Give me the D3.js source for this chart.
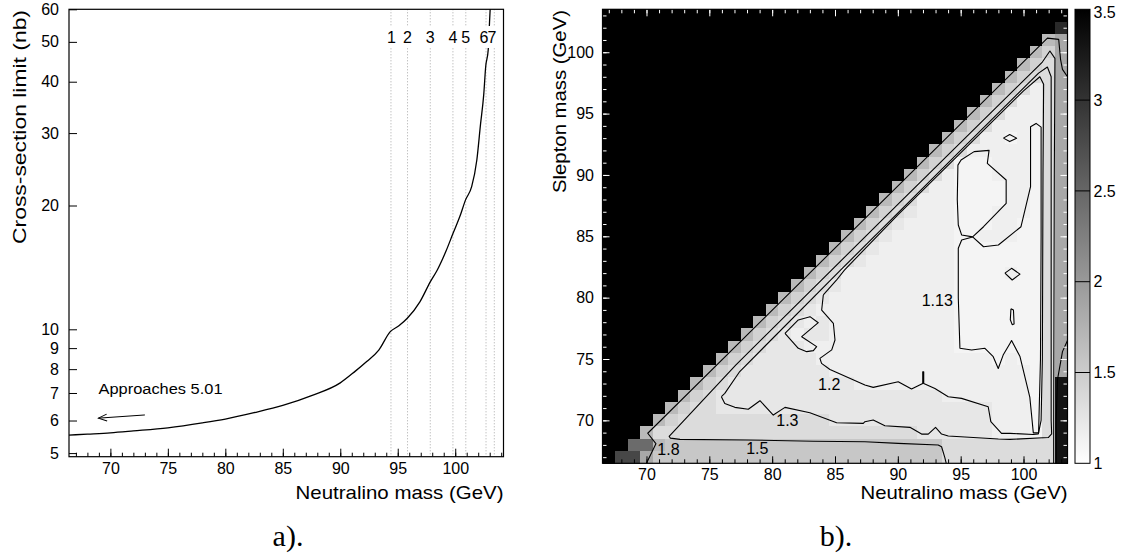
<!DOCTYPE html>
<html><head><meta charset="utf-8">
<script src="https://cdn.jsdelivr.net/npm/d3@7"></script>
<style>
html,body{margin:0;padding:0;background:#fff;}
svg{display:block;}
</style></head><body>
<svg id="chart" width="1129" height="556"></svg>
<script>
// ================= DATA : panel a) =================
const massA  = [66.4, 68, 70, 72, 75, 78, 80, 82.5, 85, 87.5, 90, 91.26, 92.3, 93.35, 94.35, 95.1, 95.83, 96.94, 97.84, 98.44, 99.2, 99.82, 100.4, 100.9, 101.43, 101.88, 102.2, 102.48, 102.65, 102.87, 103.0, 103.1];
const limitA = [5.53, 5.56, 5.60, 5.66, 5.76, 5.92, 6.05, 6.27, 6.53, 6.90, 7.41, 7.89, 8.35, 8.90, 9.87, 10.2, 10.64, 11.68, 13.06, 13.94, 15.5, 17.14, 18.8, 20.64, 22.23, 25.81, 31.5, 37.2, 43.5, 47.8, 57, 65];
const yTicksA = [5,6,7,8,9,10,20,30,40,50,60];
const xMajorTicks = [70,75,80,85,90,95,100];
const thresholdMass = [94.41, 95.85, 97.83, 99.8, 100.92, 102.68, 103.4];
const thresholdLabels = ["1","2","3","4","5","6","7"];
const thresholdLabelMass = [94.45, 95.85, 97.83, 99.8, 100.92, 102.5, 103.2];
const arrowFrom = [73.0, 6.19], arrowTo = [68.96, 6.08];
const noteText = "Approaches 5.01", notePos = [68.97, 6.96];

// ================= DATA : panel b) =================
const neutralinoBins = [67,68,69,70,71,72,73,74,75,76,77,78,79,80,81,82,83,84,85,86,87,88,89,90,91,92,93,94,95,96,97,98,99,100,101,102,103];
const sleptonBins    = [103,102,101,100,99,98,97,96,95,94,93,92,91,90,89,88,87,86,85,84,83,82,81,80,79,78,77,76,75,74,73,72,71,70,69,68,67];
// cell value codes (value of the ratio shown in grey)
const cellCodes = {"#":3.5, k:3.3, j:3.1, h:2.8, g:2.45, f:1.85, e:1.68, d:1.55, n:1.44, c:1.34, b:1.24, a:1.16, o:1.11};
// one run-length string per slepton-mass row (top row first), left to right in neutralino mass
const cellRows = [
 "37#",
 "36# 1j",
 "35# 1e 1f",
 "34# 1e 1n 1f",
 "33# 1e 1n 1c 1f",
 "32# 1e 1n 2c 1f",
 "31# 1e 1n 1c 1a 1c 1f",
 "30# 1e 1n 1c 2a 1c 1f",
 "29# 1e 1n 1c 3a 1c 1f",
 "28# 1e 1n 1c 3a 1o 1c 1f",
 "27# 1e 1n 1c 2a 1o 1a 1o 1c 1f",
 "26# 1e 1n 1c 5a 1o 1c 1f",
 "25# 1e 1n 1c 3o 3a 1o 1c 1f",
 "24# 1e 1n 1c 1a 3o 3a 1o 1c 1f",
 "23# 1e 1n 1c 2a 4o 2a 1o 1c 1f",
 "22# 1e 1n 1c 3a 4o 2a 1o 1c 1f",
 "21# 1e 1n 1c 1b 3a 3o 3a 1o 1c 1f",
 "20# 1e 1n 1c 1b 4a 3o 2a 2o 1c 1f",
 "19# 1e 1n 1c 1b 5a 2o 3a 2o 1c 1f",
 "18# 1e 1n 1c 1b 6a 7o 1c 1f",
 "17# 1e 1n 1c 1b 7a 7o 1c 1f",
 "16# 1e 1n 1c 9a 4o 1a 2o 1c 1f",
 "15# 1e 1n 1c 1b 9a 7o 1c 1f",
 "14# 1e 1n 1c 1b 10a 7o 1c 1f",
 "13# 1e 1n 1c 1b 11a 7o 1c 1f",
 "12# 1e 1n 1c 1b 1a 1b 10a 7o 1c 1f",
 "11# 1e 1n 1c 1b 1a 2b 10a 7o 1c 1f",
 "10# 1e 1n 1c 3b 12a 7o 1c 1f",
 "9# 1e 1n 1c 5b 14a 1o 1a 2o 1c 1f",
 "8# 1e 1n 1c 7b 16a 1o 1c 1f",
 "7# 1e 1n 1c 10b 14a 1o 1c 1k",
 "6# 1e 1n 1c 18b 7a 1o 1c 1k",
 "5# 1e 1n 2c 22b 3a 1o 1c 1k",
 "4# 1e 1n 12c 13b 3a 1o 1c 1k",
 "3# 1e 21c 6b 3a 1o 1c 1k",
 "2# 2g 1e 22d 9c 1k",
 "1# 2h 1f 23d 9c 1k"
];
// contour lines  [neutralino mass, slepton mass]
const contour18a = [[70.0,66.5],[70.75,68.1],[70.1,68.95],[101.9,101.15],[102.8,101.05],[102.95,99.4],[103.1,98.6],[103.5,98.0]];
const contour18b = [[103.5,76.5],[103.1,75.6],[102.7,73.3],[102.6,70.0],[102.6,66.5]];
const contour15  = [[93.85,66.5],[93.74,66.96],[93.48,67.85],[93.21,67.99],[90.03,68.12],[87.38,68.26],[83.28,68.3],[77.97,68.4],[72.67,68.45],[71.9,68.55],[71.8,68.7],[77.1,74.5],[90,87.6],[101.5,99.2],[102.1,100.1],[102.5,99.5],[102.45,90],[102.4,70],[102.4,66.5]];
const contour13  = [[75.96,71.93],[76.23,72.2],[77.42,73.98],[85.3,82.1],[95,92.0],[101.2,98.3],[101.9,98.8],[102.2,98.0],[102.2,90],[102.2,70],[102.24,68.89],[101.97,68.6],[98.92,68.45],[98.0,68.48],[94.01,68.72],[93.48,68.88],[93.0,69.43],[92.42,68.88],[91.89,68.88],[90.96,69.43],[88.97,69.56],[88.04,70.03],[87.38,69.89],[87.25,69.75],[85.13,69.81],[83.0,70.62],[81.02,71.06],[80.09,70.43],[79.03,71.6],[78.1,70.9],[77.03,71.06],[76.23,71.38],[75.96,71.93]];
const contour12  = [[84.07,80.22],[85.13,81.44],[85.75,82.25],[90,86.75],[95,91.8],[100,96.85],[101.3,98.0],[101.6,97.4],[101.55,90],[101.5,75],[101.4,70],[101.18,68.9],[100.78,68.85],[98.92,68.94],[98.25,68.94],[97.4,69.89],[97.19,71.11],[95.07,71.79],[94.01,71.93],[92.95,72.6],[92.06,73.0],[92.06,73.96],[91.98,73.96],[91.98,73.01],[91.09,72.55],[90.03,73.15],[88.04,72.69],[87.38,72.88],[84.6,74.15],[83.93,74.64],[83.8,75.05],[84.74,75.74],[85.0,76.55],[84.87,77.91],[83.94,78.99],[84.07,80.22]];
const contour12island = [[81.02,77.09],[82.08,78.18],[83.01,78.45],[83.67,77.96],[82.35,76.82],[83.54,76.01],[83.28,75.68],[82.75,75.6],[82.08,75.87],[81.02,77.09]];
const contour113 = [[95.95,84.95],[96.82,85.78],[98.62,87.69],[98.62,89.59],[97.12,90.95],[97.26,92.0],[96.07,91.9],[95.03,91.22],[94.78,90.8],[94.73,88.0],[94.81,85.92],[95.08,85.1],[95.95,84.95],[95.08,84.7],[94.81,84.02],[94.81,80.0],[94.94,75.87],[95.87,75.73],[96.93,75.87],[97.59,75.19],[97.99,74.23],[98.38,75.32],[98.92,76.27],[99.05,76.5],[99.72,75.2],[100.5,71.9],[100.78,68.98],[101.2,68.98],[101.35,75],[101.4,85],[101.4,93.9],[101.0,94.2],[100.56,93.93],[100.56,89.04],[99.8,85.78],[98.0,84.29],[96.82,84.15],[95.95,84.95]];
const contour113islandA = [[98.4,93.0],[98.9,93.3],[99.45,93.0],[98.9,92.72],[98.4,93.0]];
const contour113islandB = [[98.52,82.0],[99.05,82.39],[99.72,81.92],[99.1,81.44],[98.52,82.0]];
const contour113islandC = [[99.0,79.1],[99.2,79.0],[99.25,77.85],[99.1,77.8],[98.95,78.2],[99.0,79.1]];
const contourLabels = [
  {t:"1.8", x:71.75, y:67.67},
  {t:"1.5", x:78.82, y:67.7},
  {t:"1.3", x:81.21, y:70.03},
  {t:"1.2", x:84.54, y:72.96},
  {t:"1.13", x:93.14, y:79.75}
];
const colorTicks = [1,1.5,2,2.5,3,3.5];
const colorTickLabels = ["1","1.5","2","2.5","3","3.5"];

// ================= DRAWING =================
const SANS = "'Liberation Sans', Arial, sans-serif";
const SERIF = "'Liberation Serif', 'Times New Roman', serif";
const svg = d3.select("#chart");
const defs = svg.append("defs");

// ---------- panel a ----------
const xA = d3.scaleLinear().domain([66.4,104.2]).range([69,503.5]);
const yA = d3.scaleLog().domain([4.9,60]).range([456.7,9.3]);
defs.append("clipPath").attr("id","clipA").append("rect")
  .attr("x",xA(66.4)).attr("y",yA(60)).attr("width",xA(104.2)-xA(66.4)).attr("height",yA(4.9)-yA(60));
const gA = svg.append("g");

gA.append("g").attr("clip-path","url(#clipA)").selectAll("line").data(thresholdMass).join("line")
  .attr("x1",d=>xA(d)).attr("x2",d=>xA(d)).attr("y1",yA(60)).attr("y2",yA(4.9))
  .attr("stroke","#a8a8a8").attr("stroke-width",1).attr("stroke-dasharray","1,2");

const curvePts = massA.map((m,i)=>[m,limitA[i]]);
gA.append("path").attr("clip-path","url(#clipA)").datum(curvePts)
  .attr("d", d3.line().x(d=>xA(d[0])).y(d=>yA(d[1])).curve(d3.curveMonotoneX))
  .attr("fill","none").attr("stroke","#000").attr("stroke-width",1.3);

// threshold labels with white boxes
const thrG = gA.append("g");
thrG.selectAll("rect").data(thresholdLabelMass).join("rect")
  .attr("x",d=>xA(d)-6).attr("y",26).attr("width",12).attr("height",22).attr("fill","#fff");
thrG.selectAll("text").data(thresholdLabels).join("text")
  .attr("x",(d,i)=>xA(thresholdLabelMass[i])).attr("y",42.5)
  .attr("text-anchor","middle").attr("font-family",SANS).attr("font-size",16).text(d=>d);

// arrow + note
defs.append("marker").attr("id","arr").attr("viewBox","0 0 10 10").attr("refX",9).attr("refY",5)
  .attr("markerWidth",10).attr("markerHeight",10).attr("orient","auto").attr("markerUnits","userSpaceOnUse")
  .append("path").attr("d","M0.5,1.5 L9,5 L0.5,8.5").attr("fill","none").attr("stroke","#000").attr("stroke-width",1);
gA.append("line").attr("x1",xA(arrowFrom[0])).attr("y1",yA(arrowFrom[1])).attr("x2",xA(arrowTo[0])).attr("y2",yA(arrowTo[1]))
  .attr("stroke","#000").attr("stroke-width",1).attr("marker-end","url(#arr)");
gA.append("text").attr("x",xA(notePos[0])).attr("y",yA(notePos[1])).attr("font-family",SANS).attr("font-size",15.5)
  .attr("textLength",124).attr("lengthAdjust","spacingAndGlyphs").text(noteText);

// axes panel a
const minorA = d3.range(67,105);
gA.append("g").attr("transform",`translate(0,${yA(4.9)})`)
  .call(d3.axisBottom(xA).tickValues(minorA).tickSize(-4).tickFormat(""))
  .call(g=>g.select(".domain").remove());
const axA = gA.append("g").attr("transform",`translate(0,${yA(4.9)})`)
  .call(d3.axisBottom(xA).tickValues(xMajorTicks).tickSize(-8).tickPadding(5.5).tickFormat(d3.format("d")))
  .call(g=>g.select(".domain").remove());
const ayA = gA.append("g").attr("transform",`translate(${xA(66.4)},0)`)
  .call(d3.axisLeft(yA).tickValues(yTicksA).tickSize(-8).tickPadding(10).tickFormat(d3.format("d")))
  .call(g=>g.select(".domain").remove());
[axA,ayA].forEach(g=>g.selectAll("text").attr("font-family",SANS).attr("font-size",16).attr("fill","#000"));
gA.selectAll(".tick line").attr("stroke","#000");

gA.append("rect").attr("x",xA(66.4)).attr("y",yA(60)).attr("width",xA(104.2)-xA(66.4)).attr("height",yA(4.9)-yA(60))
  .attr("fill","none").attr("stroke","#000").attr("stroke-width",1.2);

gA.append("text").attr("x",xA(104.2)).attr("y",499).attr("text-anchor","end").attr("font-family",SANS).attr("font-size",19)
  .attr("textLength",208).attr("lengthAdjust","spacingAndGlyphs").text("Neutralino mass (GeV)");
gA.append("text").attr("transform","translate(26,10) rotate(-90)").attr("text-anchor","end").attr("font-family",SANS).attr("font-size",19)
  .attr("textLength",234).attr("lengthAdjust","spacingAndGlyphs").text("Cross-section limit (nb)");
gA.append("text").attr("x",288).attr("y",546).attr("text-anchor","middle").attr("font-family",SERIF).attr("font-size",30).text("a).");

// ---------- panel b ----------
const xB = d3.scaleLinear().domain([66.5,103.5]).range([602.5,1067.5]);
const yB = d3.scaleLinear().domain([66.5,103.5]).range([463.3,9.3]);
const grey = d3.scaleLinear().domain([1,3.5]).range(["#ffffff","#000000"]).clamp(true);
const gB = svg.append("g");

const cells = [];
cellRows.forEach((row,ri)=>{
  let col = 0;
  row.split(" ").forEach(tok=>{
    const n = parseInt(tok,10), code = tok.replace(/^\d+/,"");
    for(let k=0;k<n;k++){ if(col<neutralinoBins.length) cells.push({x:neutralinoBins[col], y:sleptonBins[ri], v:cellCodes[code]}); col++; }
  });
});
gB.append("g").selectAll("rect").data(cells).join("rect")
  .attr("x",d=>xB(d.x-0.5)).attr("y",d=>yB(d.y+0.5))
  .attr("width",d=>xB(d.x+0.5)-xB(d.x-0.5)+0.4).attr("height",d=>yB(d.y-0.5)-yB(d.y+0.5)+0.4)
  .attr("fill",d=>grey(d.v)).attr("shape-rendering","crispEdges");

defs.append("clipPath").attr("id","clipB").append("rect")
  .attr("x",xB(66.5)).attr("y",yB(103.5)).attr("width",xB(103.5)-xB(66.5)).attr("height",yB(66.5)-yB(103.5));
const lineB = d3.line().x(d=>xB(d[0])).y(d=>yB(d[1]));
const contours = [contour18a,contour18b,contour15,contour13,contour12,contour12island,contour113,contour113islandA,contour113islandB,contour113islandC];
gB.append("g").attr("clip-path","url(#clipB)").selectAll("path").data(contours).join("path")
  .attr("d",lineB).attr("fill","none").attr("stroke","#000").attr("stroke-width",1.1).attr("stroke-linejoin","round");
gB.append("g").selectAll("text").data(contourLabels).join("text")
  .attr("x",d=>xB(d.x)).attr("y",d=>yB(d.y)).attr("dy","0.36em").attr("text-anchor","middle")
  .attr("font-family",SANS).attr("font-size",16).text(d=>d.t);

// axes panel b
const minorB = d3.range(67,104);
const majorB = [70,75,80,85,90,95,100];
function tickAxis(axisFn, scale, vals, size, color, tr){
  gB.append("g").attr("transform",tr).call(axisFn(scale).tickValues(vals).tickSize(size).tickFormat(""))
    .call(g=>g.select(".domain").remove()).selectAll("line").attr("stroke",color);
}
tickAxis(d3.axisBottom,xB,minorB,-4,"#000",`translate(0,${yB(66.5)})`);
tickAxis(d3.axisBottom,xB,majorB,-7,"#000",`translate(0,${yB(66.5)})`);
tickAxis(d3.axisTop,xB,minorB,-4,"#fff",`translate(0,${yB(103.5)})`);
tickAxis(d3.axisTop,xB,majorB,-7,"#fff",`translate(0,${yB(103.5)})`);
tickAxis(d3.axisLeft,yB,minorB,-4,"#fff",`translate(${xB(66.5)},0)`);
tickAxis(d3.axisLeft,yB,majorB,-7,"#fff",`translate(${xB(66.5)},0)`);
tickAxis(d3.axisRight,yB,minorB,-4,"#fff",`translate(${xB(103.5)},0)`);
tickAxis(d3.axisRight,yB,majorB,-7,"#fff",`translate(${xB(103.5)},0)`);
const lbx = gB.append("g").attr("transform",`translate(0,${yB(66.5)})`)
  .call(d3.axisBottom(xB).tickValues(majorB).tickSize(0).tickPadding(5.3).tickFormat(d3.format("d")))
  .call(g=>g.select(".domain").remove());
const lby = gB.append("g").attr("transform",`translate(${xB(66.5)},0)`)
  .call(d3.axisLeft(yB).tickValues(majorB).tickSize(0).tickPadding(8.5).tickFormat(d3.format("d")))
  .call(g=>g.select(".domain").remove());
[lbx,lby].forEach(g=>g.selectAll("text").attr("font-family",SANS).attr("font-size",16).attr("fill","#000"));

gB.append("rect").attr("x",xB(66.5)).attr("y",yB(103.5)).attr("width",xB(103.5)-xB(66.5)).attr("height",yB(66.5)-yB(103.5))
  .attr("fill","none").attr("stroke","#000").attr("stroke-width",1.2);

gB.append("text").attr("x",xB(103.5)).attr("y",499).attr("text-anchor","end").attr("font-family",SANS).attr("font-size",19)
  .attr("textLength",207).attr("lengthAdjust","spacingAndGlyphs").text("Neutralino mass (GeV)");
gB.append("text").attr("transform","translate(566,10) rotate(-90)").attr("text-anchor","end").attr("font-family",SANS).attr("font-size",19)
  .attr("textLength",183).attr("lengthAdjust","spacingAndGlyphs").text("Slepton mass (GeV)");
gB.append("text").attr("x",836).attr("y",546).attr("text-anchor","middle").attr("font-family",SERIF).attr("font-size",30).text("b).");

// colour bar
const cY = d3.scaleLinear().domain([1,3.5]).range([463.3,9.3]);
const cx0 = 1075, cx1 = 1090;
const grad = defs.append("linearGradient").attr("id","cbar").attr("x1",0).attr("x2",0).attr("y1",1).attr("y2",0);
grad.selectAll("stop").data(colorTicks).join("stop")
  .attr("offset",d=>(d-1)/2.5).attr("stop-color",d=>grey(d));
gB.append("rect").attr("x",cx0).attr("y",cY(3.5)).attr("width",cx1-cx0).attr("height",cY(1)-cY(3.5))
  .attr("fill","url(#cbar)").attr("stroke","#000").attr("stroke-width",1);
gB.append("g").selectAll("line").data(colorTicks.filter(d=>d>1&&d<3.5)).join("line")
  .attr("x1",cx0).attr("x2",cx1).attr("y1",d=>cY(d)).attr("y2",d=>cY(d)).attr("stroke","#000").attr("stroke-width",1);
gB.append("g").selectAll("text").data(colorTicks).join("text")
  .attr("x",cx1+3.5).attr("y",d=>cY(d)+(d===3.5?3:0)).attr("dy","0.36em")
  .attr("font-family",SANS).attr("font-size",16).text((d,i)=>colorTickLabels[i]);
</script>
</body></html>
